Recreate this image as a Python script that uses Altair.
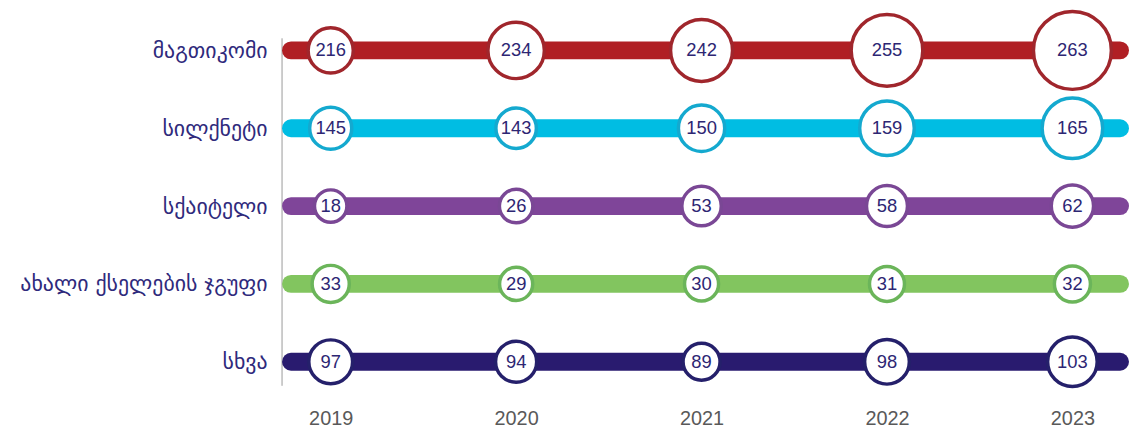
import altair as alt
import pandas as pd

categories = ["მაგთიკომი", "სილქნეტი", "სქაიტელი", "ახალი ქსელების ჯგუფი", "სხვა"]
years = ["2019", "2020", "2021", "2022", "2023"]
magticom = [216, 234, 242, 255, 263]
silknet = [145, 143, 150, 159, 165]
skytel = [18, 26, 53, 58, 62]
new_networks = [33, 29, 30, 31, 32]
other = [97, 94, 89, 98, 103]

bar_colors = ["#b01f24", "#00bde3", "#7f4599", "#82c55f", "#291b6f"]
ring_colors = ["#a0262c", "#14a9cf", "#7a4795", "#6bb55a", "#25206b"]

series = [magticom, silknet, skytel, new_networks, other]
rows = []
for cat, vals in zip(categories, series):
    for yr, v in zip(years, vals):
        rows.append({"category": cat, "year": yr, "value": v})
df = pd.DataFrame(rows)
cat_df = pd.DataFrame({"category": categories})

W, H = 853, 392

y_enc = alt.Y(
    "category:N",
    sort=categories,
    scale=alt.Scale(type="point", domain=categories, padding=0.5),
    axis=alt.Axis(
        title=None, domain=False, ticks=False, grid=False,
        labelFont="DejaVu Sans", labelFontSize=22, labelColor="#2f2a7c",
        labelPadding=15, labelLimit=300,
    ),
)
x_scale = alt.Scale(type="point", domain=years, padding=0.2838, align=0.4623)
x_enc = alt.X(
    "year:N",
    scale=x_scale,
    axis=alt.Axis(
        title=None, domain=False, ticks=False, grid=False, labelAngle=0,
        labelFont="Liberation Sans", labelFontSize=20, labelColor="#595959",
        labelPadding=8,
    ),
)

axis_line = alt.Chart(pd.DataFrame({"k": [0]})).mark_rule(
    color="#9a9a9a", strokeWidth=1
).encode(x=alt.value(0), y=alt.value(27), y2=alt.value(377))

bars = alt.Chart(cat_df).mark_rule(strokeWidth=18, strokeCap="round").encode(
    y=y_enc,
    x=alt.value(9),
    x2=alt.value({"expr": "width - 9"}),
    color=alt.Color("category:N", scale=alt.Scale(domain=categories, range=bar_colors), legend=None),
)

base = alt.Chart(df).transform_joinaggregate(
    vmin="min(value)", vmax="max(value)", groupby=["category"]
).transform_joinaggregate(
    gmax="max(value)"
).transform_calculate(
    t="(datum.value - datum.vmin) / (datum.vmax - datum.vmin)",
    r="datum.value / datum.gmax",
).transform_calculate(
    dia="31.5 + 17 * datum.r + 30 * datum.t * datum.r",
).transform_calculate(
    area="datum.dia * datum.dia",
)

circles = base.mark_point(
    shape="circle", filled=True, fill="white", strokeWidth=3.5, opacity=1, fillOpacity=1, strokeOpacity=1
).encode(
    x=x_enc,
    y=y_enc,
    stroke=alt.Stroke("category:N", scale=alt.Scale(domain=categories, range=ring_colors), legend=None),
    size=alt.Size("area:Q", scale=None, legend=None),
)

labels = base.mark_text(
    font="Liberation Sans", fontSize=18.5, color="#2d2673", baseline="middle", align="center"
).encode(
    x=x_enc,
    y=y_enc,
    text=alt.Text("value:Q"),
)

chart = alt.layer(axis_line, bars, circles, labels).properties(
    width=W, height=H,
    autosize=alt.AutoSizeParams(type="none"),
    padding={"left": 276, "top": 2, "right": 0, "bottom": 26},
).configure_view(stroke=None).resolve_scale(color="independent")

chart.save("out.html", embed_options={"renderer": "svg", "actions": False})
